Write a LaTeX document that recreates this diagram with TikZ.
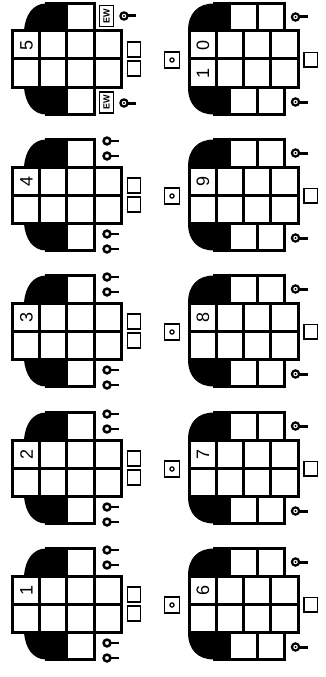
\documentclass[tikz,border=0pt]{standalone}
\usepackage{fontspec}
\setmainfont{Liberation Sans}
\tikzset{
  x=1pt,y=-1pt,
  wall/.style={line width=3pt,draw=black,line cap=rect,line join=miter},
  thinbox/.style={line width=1.8pt,draw=black},
  digit/.style={rotate=90,font=\fontsize{18}{18}\selectfont,inner sep=0pt},
  evbox/.style={rotate=90,font=\fontsize{9}{9}\selectfont\bfseries,inner sep=0pt},
}
\newcommand{\pinopen}[2]{%
  \draw[line width=2.5pt,fill=white] (#1,#2) circle (3.4);
  \draw[line width=2.4pt] (#1+3.5,#2) -- (#1+12,#2);}
\newcommand{\pinfull}[2]{%
  \draw[line width=2.2pt,fill=white] (#1,#2) circle (3.6);
  \fill (#1,#2) circle (1.2);
  \draw[line width=3pt] (#1+3.5,#2) -- (#1+12,#2);}
\newcommand{\leftgrid}[2]{%
  \fill (66.5,#1-28) -- (24,#1-28) .. controls (25,#1-44) and (33,#1-55.5) .. (46,#1-55.5) -- (66.5,#1-55.5) -- cycle;
  \fill (66.5,#1+28) -- (24,#1+28) .. controls (25,#1+44) and (33,#1+55.5) .. (46,#1+55.5) -- (66.5,#1+55.5) -- cycle;
  \draw[wall] (12.7,#1-28) rectangle (121.5,#1+28);
  \draw[wall] (12.7,#1) -- (121.5,#1);
  \draw[wall] (39.5,#1-28) -- (39.5,#1+28);
  \draw[wall] (66.5,#1-55.5) -- (66.5,#1+55.5);
  \draw[wall] (94,#1-55.5) -- (94,#1+55.5);
  \draw[wall] (46,#1-55.5) -- (94,#1-55.5);
  \draw[wall] (46,#1+55.5) -- (94,#1+55.5);
  \draw[thinbox] (127.5,#1-17) rectangle (140.5,#1-2);
  \draw[thinbox] (127.5,#1+2) rectangle (140.5,#1+17);
  \node[digit] (n#2) at (26.5,#1-14) {#2};}
\newcommand{\leftpins}[1]{%
  \pinopen{107}{#1-54}\pinopen{107}{#1-39}\pinopen{107}{#1+39}\pinopen{107}{#1+54}}
\newcommand{\rightgrid}[3]{%
  \fill (229.5,#1-28) -- (188,#1-28) .. controls (188,#1-46) and (198,#1-55.5) .. (214,#1-55.5) -- (229.5,#1-55.5) -- cycle;
  \fill (229.5,#1+28) -- (188,#1+28) .. controls (188,#1+46) and (198,#1+55.5) .. (214,#1+55.5) -- (229.5,#1+55.5) -- cycle;
  \draw[wall] (189,#1-28) rectangle (298.5,#1+28);
  \draw[wall] (189,#1) -- (298.5,#1);
  \draw[wall] (216.5,#1-28) -- (216.5,#1+28);
  \draw[wall] (243.5,#1-28) -- (243.5,#1+28);
  \draw[wall] (270.5,#1-28) -- (270.5,#1+28);
  \draw[wall] (214,#1-55.5) -- (284.5,#1-55.5) -- (284.5,#1-28);
  \draw[wall] (214,#1+55.5) -- (284.5,#1+55.5) -- (284.5,#1+28);
  \draw[wall] (229.5,#1-55.5) -- (229.5,#1-28);
  \draw[wall] (257,#1-55.5) -- (257,#1-28);
  \draw[wall] (229.5,#1+55.5) -- (229.5,#1+28);
  \draw[wall] (257,#1+55.5) -- (257,#1+28);
  \draw[thinbox] (304,#1-6.5) rectangle (317.5,#1+8);
  \draw[thinbox] (164.5,#1-7) rectangle (179.5,#1+9);
  \draw[line width=1.2pt] (172,#1+1) circle (2.1);
  \pinfull{295.5}{#1-42}\pinfull{295.5}{#1+43}
  \node[digit] (m#2) at (203,#1-14) {#3};}
\begin{document}
\begin{tikzpicture}
\useasboundingbox (0,0) rectangle (326,677);
\leftgrid{59}{5}
\leftgrid{195}{4}\leftpins{195}
\leftgrid{331}{3}\leftpins{331}
\leftgrid{468}{2}\leftpins{468}
\leftgrid{604}{1}\leftpins{604}
\pinfull{124}{16}\pinfull{124}{103}
\node[evbox,thinbox,draw,minimum width=21pt,minimum height=14pt] (ewa) at (106.5,16) {EW};
\node[evbox,thinbox,draw,minimum width=21pt,minimum height=14pt] (ewb) at (106.5,102.5) {EW};
\rightgrid{59}{10}{0}
\node[digit] (m10b) at (203,73) {1};
\rightgrid{195}{9}{9}
\rightgrid{331}{8}{8}
\rightgrid{468}{7}{7}
\rightgrid{604}{6}{6}
\end{tikzpicture}
\end{document}
